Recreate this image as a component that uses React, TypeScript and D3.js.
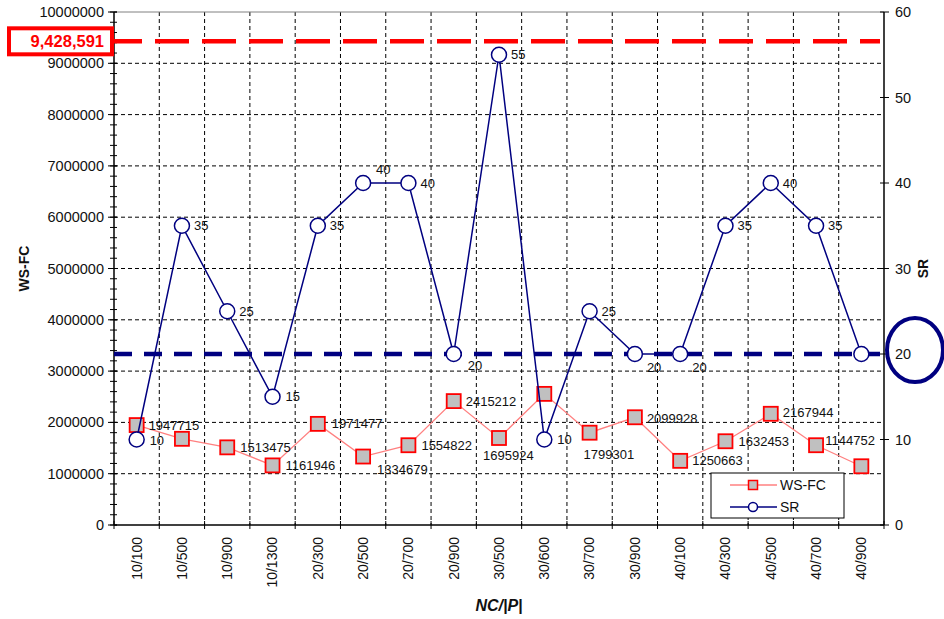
import React from "react";
import * as d3 from "d3";

// Test configurations: number of clusters / population size
const categories = [
  "10/100", "10/500", "10/900", "10/1300", "20/300", "20/500", "20/700", "20/900",
  "30/500", "30/600", "30/700", "30/900", "40/100", "40/300", "40/500", "40/700", "40/900",
];

// WS-FC values (left axis)
const wsfc = [
  1947715, 1680000, 1513475, 1161946, 1971477, 1334679, 1554822, 2415212,
  1695924, 2556000, 1799301, 2099928, 1250663, 1632453, 2167944, 1555000, 1144752,
];
const wsfcShowLabel = [
  true, false, true, true, true, true, true, true,
  true, false, true, true, true, true, true, false, true,
];

// SR values (right axis)
const sr = [10, 35, 25, 15, 35, 40, 40, 20, 55, 10, 25, 20, 20, 35, 40, 35, 20];
const srShowLabel = [
  true, true, true, true, true, true, true, true,
  true, true, true, true, true, true, true, true, false,
];

const leftTicks = d3.range(0, 10000001, 1000000);
const leftMinorTicks = d3.range(0, 10000001, 200000);
const rightTicks = [0, 10, 20, 30, 40, 50, 60];

// Reference levels
const wsfcReference = 9428591;
const srReference = 20;

// Label placement nudges (px) relative to each marker
const wsfcLabelNudge: [number, number][] = [
  [12, 0], [12, 0], [13, 0], [13, 0], [14, 0], [14, 13], [13, 0], [12, 0],
  [-16, 17], [12, 0], [-6, 22], [12, 1], [12, 0], [13, 0], [12, -1], [12, 0], [-36, -26],
];
const srLabelNudge: [number, number][] = [
  [13, 1], [12, 0], [12, 0], [13, 0], [12, 0], [13, -14], [12, 0], [14, 11],
  [12, 0], [13, 0], [12, 0], [12, 13], [12, 13], [12, 0], [12, 0], [12, 0], [12, 0],
];

const FONT = "'Liberation Sans', Arial, Helvetica, sans-serif";
const INK = "#111";

export default function App() {
  const W = 944;
  const H = 619;
  const left = 114;
  const right = 884;
  const top = 12;
  const bottom = 525;

  const x = d3.scaleBand<string>().domain(categories).range([left, right]).padding(0);
  const yL = d3.scaleLinear().domain([0, 10000000]).range([bottom, top]);
  const yR = d3.scaleLinear().domain([0, 60]).range([bottom, top]);
  const cx = (c: string) => (x(c) as number) + x.bandwidth() / 2;

  const wsfcLine = d3
    .line<number>()
    .x((_, i) => cx(categories[i]))
    .y((d) => yL(d));
  const srLine = d3
    .line<number>()
    .x((_, i) => cx(categories[i]))
    .y((d) => yR(d));

  const boundaries = categories.map((c) => x(c) as number).concat([right]);

  const refY = yL(wsfcReference);
  const srRefY = yR(srReference);

  return (
    <svg
      width={W}
      height={H}
      style={{ position: "absolute", left: 0, top: 0, background: "#fff", fontFamily: FONT }}
    >
      <rect x={0} y={0} width={W} height={H} fill="#fff" />

      {/* horizontal gridlines */}
      {leftTicks.slice(1, -1).map((t) => (
        <line
          key={"hg" + t}
          x1={left}
          x2={right}
          y1={yL(t)}
          y2={yL(t)}
          stroke="#000"
          strokeWidth={1}
          strokeDasharray="4,3"
        />
      ))}
      {/* vertical gridlines */}
      {boundaries.slice(1, -1).map((b, i) => (
        <line
          key={"vg" + i}
          x1={b}
          x2={b}
          y1={top}
          y2={bottom}
          stroke="#000"
          strokeWidth={1}
          strokeDasharray="4,3"
        />
      ))}
      {/* plot frame top */}
      <line x1={left} x2={right} y1={top} y2={top} stroke="#808080" strokeWidth={1} />

      {/* left axis */}
      <line x1={left} x2={left} y1={top} y2={bottom} stroke="#000" strokeWidth={1.5} />
      {leftMinorTicks.map((t) => (
        <line key={"lm" + t} x1={left - 4} x2={left + 3} y1={yL(t)} y2={yL(t)} stroke="#000" strokeWidth={1} />
      ))}
      {leftTicks.map((t) => (
        <g key={"lt" + t}>
          <line x1={left - 6} x2={left + 3} y1={yL(t)} y2={yL(t)} stroke="#000" strokeWidth={1} />
          <text x={left - 10} y={yL(t)} dy="0.35em" textAnchor="end" fontSize={14.5} fill={INK}>
            {t}
          </text>
        </g>
      ))}

      {/* right axis */}
      <line x1={right} x2={right} y1={top} y2={bottom} stroke="#000" strokeWidth={1.5} />
      {rightTicks.map((t) => (
        <g key={"rt" + t}>
          <line x1={right - 4} x2={right + 5} y1={yR(t)} y2={yR(t)} stroke="#000" strokeWidth={1} />
          <text x={right + 11} y={yR(t)} dy="0.35em" textAnchor="start" fontSize={14.5} fill={INK}>
            {t}
          </text>
        </g>
      ))}

      {/* x axis */}
      <line x1={left} x2={right} y1={bottom} y2={bottom} stroke="#000" strokeWidth={1.5} />
      {boundaries.map((b, i) => (
        <line key={"xt" + i} x1={b} x2={b} y1={bottom - 4} y2={bottom + 4} stroke="#000" strokeWidth={1} />
      ))}
      {categories.map((c) => (
        <text
          key={"xl" + c}
          transform={`translate(${cx(c)},${bottom + 12}) rotate(-90)`}
          textAnchor="end"
          dy="0.35em"
          fontSize={14}
          fill={INK}
        >
          {c}
        </text>
      ))}

      {/* axis titles */}
      <text
        x={(left + right) / 2}
        y={611}
        textAnchor="middle"
        fontSize={16}
        fontWeight="bold"
        fontStyle="italic"
        fill={INK}
      >
        NC/|P|
      </text>
      <text
        transform={`translate(29,${(top + bottom) / 2}) rotate(-90)`}
        textAnchor="middle"
        fontSize={14}
        fontWeight="bold"
        fill={INK}
      >
        WS-FC
      </text>
      <text
        transform={`translate(928,${(top + bottom) / 2}) rotate(-90)`}
        textAnchor="middle"
        fontSize={14}
        fontWeight="bold"
        fill={INK}
      >
        SR
      </text>

      {/* WS-FC reference level */}
      <line
        x1={108}
        x2={right - 4}
        y1={refY}
        y2={refY}
        stroke="#ff0000"
        strokeWidth={4.5}
        strokeDasharray="34,13"
      />
      <rect x={9} y={refY - 13} width={103} height={26} fill="#fff" stroke="#ff0000" strokeWidth={4} />
      <text
        x={104}
        y={refY}
        dy="0.36em"
        textAnchor="end"
        fontSize={16.5}
        fontWeight="bold"
        fill="#ff0000"
      >
        {d3.format(",")(wsfcReference)}
      </text>

      {/* SR reference level */}
      <line
        x1={left}
        x2={right - 4}
        y1={srRefY}
        y2={srRefY}
        stroke="#000080"
        strokeWidth={4.5}
        strokeDasharray="18,12"
      />
      <ellipse cx={915} cy={srRefY - 4} rx={28} ry={32} fill="none" stroke="#000080" strokeWidth={4} />

      {/* WS-FC series */}
      <path d={wsfcLine(wsfc) || ""} fill="none" stroke="#ff8080" strokeWidth={1.3} />
      {wsfc.map((v, i) => (
        <rect
          key={"sq" + i}
          x={cx(categories[i]) - 7}
          y={yL(v) - 7}
          width={14}
          height={14}
          fill="#c0c0c0"
          stroke="#ff0000"
          strokeWidth={1.8}
        />
      ))}

      {/* SR series */}
      <path d={srLine(sr) || ""} fill="none" stroke="#000080" strokeWidth={1.5} />
      {sr.map((v, i) => (
        <circle
          key={"ci" + i}
          cx={cx(categories[i])}
          cy={yR(v)}
          r={7.5}
          fill="#fff"
          stroke="#000080"
          strokeWidth={1.5}
        />
      ))}

      {/* data labels */}
      {wsfc.map((v, i) =>
        wsfcShowLabel[i] ? (
          <text
            key={"wl" + i}
            x={cx(categories[i]) + wsfcLabelNudge[i][0]}
            y={yL(v) + wsfcLabelNudge[i][1]}
            dy="0.35em"
            fontSize={13}
            fill={INK}
          >
            {v}
          </text>
        ) : null
      )}
      {sr.map((v, i) =>
        srShowLabel[i] ? (
          <text
            key={"sl" + i}
            x={cx(categories[i]) + srLabelNudge[i][0]}
            y={yR(v) + srLabelNudge[i][1]}
            dy="0.35em"
            fontSize={13}
            fill={INK}
          >
            {v}
          </text>
        ) : null
      )}

      {/* legend */}
      <g transform="translate(711,473)">
        <rect x={0} y={0} width={133} height={45} fill="#fff" stroke="#000" strokeWidth={1} />
        <line x1={19} x2={66} y1={12} y2={12} stroke="#ff8080" strokeWidth={1.3} />
        <rect x={37.5} y={7.5} width={9} height={9} fill="#c0c0c0" stroke="#ff0000" strokeWidth={1.5} />
        <text x={69} y={12} dy="0.35em" fontSize={14} fill={INK}>
          WS-FC
        </text>
        <line x1={19} x2={66} y1={34} y2={34} stroke="#000080" strokeWidth={1.5} />
        <circle cx={42} cy={34} r={4.5} fill="#fff" stroke="#000080" strokeWidth={1.5} />
        <text x={69} y={34} dy="0.35em" fontSize={14} fill={INK}>
          SR
        </text>
      </g>
    </svg>
  );
}
